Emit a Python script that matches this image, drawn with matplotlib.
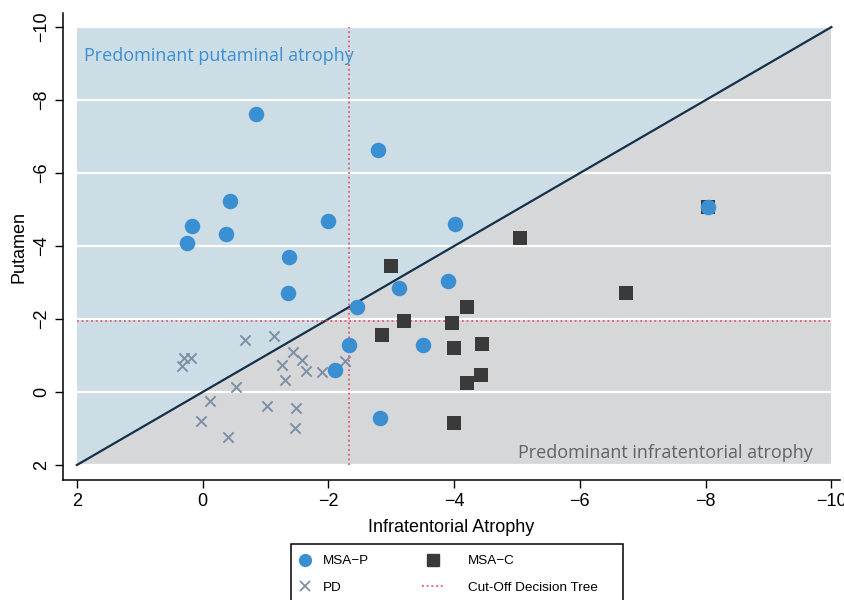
import numpy as np
import matplotlib
matplotlib.use('Agg')
import matplotlib.pyplot as plt
from matplotlib.lines import Line2D
from matplotlib.patches import Rectangle

# data
msap_x = [-0.85, -2.79, -0.43, 0.17, -0.37, 0.25, -1.99, -4.01, -1.37, -1.35,
          -3.90, -3.12, -2.45, -2.32, -3.50, -2.10, -2.82, -8.03]
msap_y = [-7.62, -6.63, -5.23, -4.55, -4.33, -4.08, -4.68, -4.60, -3.70, -2.71,
          -3.04, -2.85, -2.33, -1.29, -1.29, -0.60, 0.71, -5.07]

msac_x = [-2.99, -3.21, -2.86, -3.96, -4.20, -4.00, -4.44, -4.42, -4.21, -3.99,
          -5.05, -6.74, -8.04]
msac_y = [-3.45, -1.95, -1.57, -1.90, -2.34, -1.21, -1.32, -0.48, -0.25, 0.86,
          -4.21, -2.70, -5.06]

pd_x = [-0.68, -1.14, -1.44, -1.58, -1.27, -1.64, -1.90, -2.27, -1.31, -0.53,
        -0.12, 0.03, -0.40, -1.03, -1.49, -1.47, 0.29, 0.18, 0.33]
pd_y = [-1.42, -1.53, -1.10, -0.88, -0.74, -0.59, -0.54, -0.86, -0.32, -0.13,
        0.25, 0.78, 1.22, 0.39, 0.43, 0.99, -0.92, -0.92, -0.71]

cutoff_x = -2.33
cutoff_y = -1.96
lo, hi = 2, -10
ticks = [2, 0, -2, -4, -6, -8, -10]

tick_font = ['Liberation Sans Narrow', 'Liberation Sans', 'DejaVu Sans']
note_font = ['Open Sans', 'DejaVu Sans']
dots = (0, (1, 1.6))
cut_col = '#e05a72'

fig = plt.figure(figsize=(8.45, 6), dpi=100)
ax = fig.add_axes([0.0746, 0.2, 0.919, 0.778])

# background zones
ax.fill([lo, lo, hi], [lo, hi, hi], color='#cddde6', lw=0, zorder=0)
ax.fill([lo, hi, hi], [lo, lo, hi], color='#d6d7d9', lw=0, zorder=0)
for t in ticks:
    ax.axhline(t, color='white', lw=1.6, zorder=1)

ax.plot([lo, hi], [lo, hi], color='#15304a', lw=1.6, zorder=2)
ax.plot([cutoff_x, cutoff_x], [lo, hi], color=cut_col, lw=1.3, ls=dots, zorder=2)
ax.plot([lo, hi], [cutoff_y, cutoff_y], color=cut_col, lw=1.3, ls=dots, zorder=2)

ax.scatter(pd_x, pd_y, marker='x', s=55, color='#7d8fa3', linewidths=1.4, zorder=3)
ax.scatter(msac_x, msac_y, marker='s', s=110, color='#3a3a3a', linewidths=0, zorder=3)
ax.scatter(msap_x, msap_y, marker='o', s=125, color='#3a8fd2', linewidths=0, zorder=4)

ax.text(1.88, -9.2, 'Predominant putaminal atrophy', color='#3a8fd2',
        fontsize=13, family=note_font, va='center', ha='left')
ax.text(-9.7, 1.67, 'Predominant infratentorial atrophy', color='#626262',
        fontsize=13, family=note_font, va='center', ha='right')

ax.set_xlim(2.22, -10.13)
ax.set_ylim(2.41, -10.38)
ax.set_xticks(ticks)
ax.set_yticks(ticks)
ax.set_xticklabels([str(t).replace('-', '\u2212') for t in ticks], family=tick_font, fontsize=13)
ax.set_yticklabels([str(t).replace('-', '\u2212') for t in ticks], family=tick_font, fontsize=13,
                   rotation=90, va='center')
ax.tick_params(length=6, width=1, color='black')
for s in ['top', 'right']:
    ax.spines[s].set_visible(False)
for s in ['left', 'bottom']:
    ax.spines[s].set_linewidth(1.1)

ax.set_xlabel('Infratentorial Atrophy', family=tick_font, fontsize=13, labelpad=6)
ax.set_ylabel('Putamen', family=tick_font, fontsize=13, labelpad=4)

# legend: box runs past the bottom edge like in the original
fig.add_artist(Rectangle((291 / 845, -0.05), (623 - 291) / 845, 0.05 + 1 - 544 / 600,
                         transform=fig.transFigure, fill=False, lw=1.1, ec='black'))
leg_kw = dict(loc='upper left', borderaxespad=0, borderpad=0, frameon=False,
              prop={'family': tick_font, 'size': 9.7}, handlelength=1.7, labelspacing=1.05)
h1 = [Line2D([], [], marker='o', ls='', color='#3a8fd2', markersize=8.5),
      Line2D([], [], marker='x', ls='', color='#7d8fa3', markersize=7, mew=1.3)]
h2 = [Line2D([], [], marker='s', ls='', color='#3a3a3a', markersize=8.5),
      Line2D([], [], color=cut_col, lw=1.3, ls=dots)]
fig.legend(h1, ['MSA\u2212P', 'PD'], bbox_to_anchor=(293.5 / 845, 1 - 555 / 600),
           handletextpad=0.5, **leg_kw)
fig.legend(h2, ['MSA\u2212C', 'Cut-Off Decision Tree'], bbox_to_anchor=(422 / 845, 1 - 555 / 600),
           handletextpad=1.7, **leg_kw)

fig.savefig('out.png', dpi=100)
